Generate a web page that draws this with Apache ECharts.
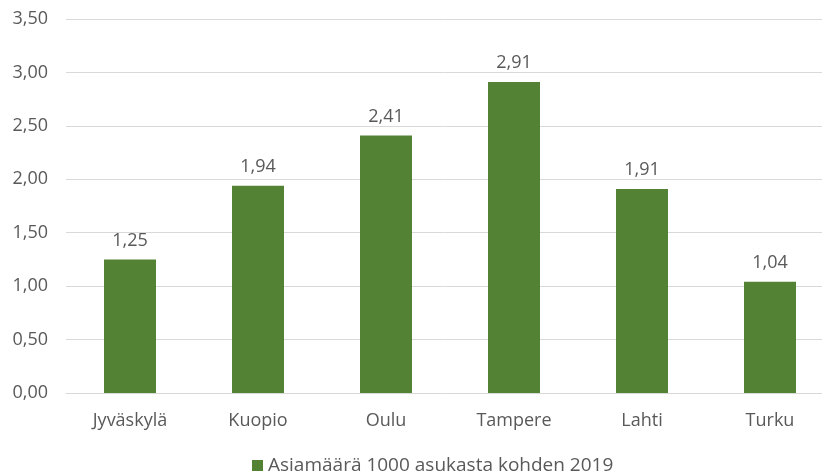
<!DOCTYPE html>
<html>
<head>
<meta charset="utf-8">
<script src="https://cdn.jsdelivr.net/npm/echarts@6/dist/echarts.min.js"></script>
<style>
  html, body { margin: 0; padding: 0; background: #fff; }
  #main { width: 822px; height: 475px; }
</style>
</head>
<body>
<div id="main"></div>
<script>
// data
var cities = ['Jyväskylä', 'Kuopio', 'Oulu', 'Tampere', 'Lahti', 'Turku'];
var values = [1.25, 1.94, 2.41, 2.91, 1.91, 1.04];
var seriesName = 'Asiamäärä 1000 asukasta kohden 2019';

var myChart = echarts.init(document.getElementById('main'));

function fi(v) {
    return v.toFixed(2).replace('.', ',');
}

var font = '"Open Sans", "Noto Sans", sans-serif';

option = {
    backgroundColor: '#fff',
    animation: false,
    textStyle: { fontFamily: font },
    grid: {
        left: 66,
        width: 768,
        top: 19,
        bottom: 82,
        outerBoundsMode: 'none'
    },
    legend: {
        top: 451,
        left: 247,
        itemWidth: 11,
        itemHeight: 11,
        itemGap: 6,
        icon: 'rect',
        textStyle: { color: '#595959', fontSize: 19, fontFamily: font },
        data: [seriesName]
    },
    xAxis: {
        type: 'category',
        data: cities,
        axisTick: { show: false },
        axisLine: { lineStyle: { color: '#d9d9d9', width: 1 } },
        axisLabel: { color: '#595959', fontSize: 18, margin: 19, fontFamily: font }
    },
    yAxis: {
        type: 'value',
        min: 0,
        max: 3.5,
        interval: 0.5,
        axisLine: { show: false },
        axisTick: { show: false },
        splitLine: { lineStyle: { color: '#d9d9d9', width: 1 } },
        axisLabel: {
            color: '#595959',
            fontSize: 18,
            margin: 18,
            fontFamily: font,
            formatter: function (v) { return fi(v); }
        }
    },
    series: [
        {
            name: seriesName,
            type: 'bar',
            data: values,
            barWidth: 52,
            itemStyle: { color: '#548235' },
            label: {
                show: true,
                position: 'top',
                distance: 10,
                color: '#595959',
                fontSize: 18,
                fontFamily: font,
                formatter: function (p) { return fi(p.value); }
            }
        }
    ]
};

myChart.setOption(option);
</script>
</body>
</html>
